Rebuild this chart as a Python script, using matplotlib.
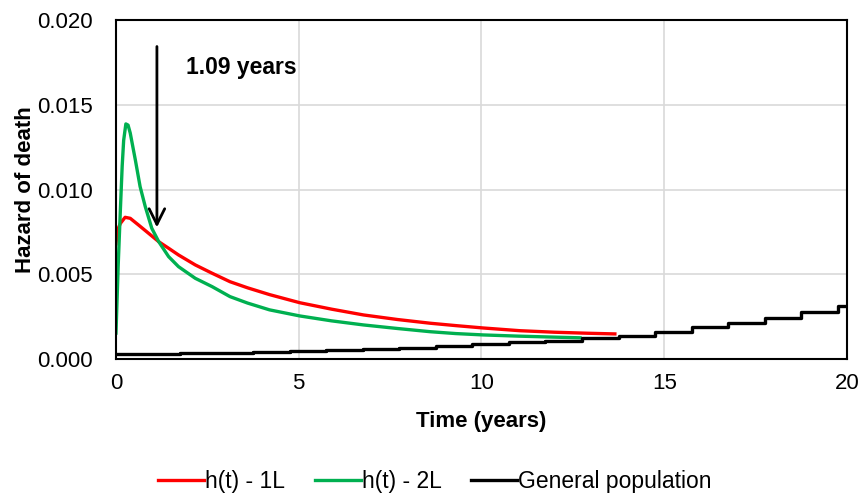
import matplotlib
matplotlib.use("Agg")
import matplotlib.pyplot as plt

plt.rcParams['font.family'] = ['Liberation Sans', 'DejaVu Sans']

# h(t) - 1L
t_1l = [0, 0.04, 0.12, 0.25, 0.39, 0.62, 0.89, 1.17, 1.45, 1.71, 2.17, 2.63, 3.12, 3.6, 4.2, 5.03,
        5.9, 6.77, 7.7, 8.6, 9.3, 10.05, 11.05, 12.0, 12.9, 13.65]
h_1l = [0.0068, 0.0076, 0.0080, 0.00836, 0.0083, 0.0079, 0.00742, 0.00692, 0.00652, 0.00614, 0.00555,
        0.00506, 0.00456, 0.0042, 0.0038, 0.00332, 0.00294, 0.0026, 0.00233, 0.00211, 0.00197, 0.00183,
        0.00167, 0.00158, 0.00152, 0.00148]

# h(t) - 2L
t_2l = [0, 0.06, 0.12, 0.17, 0.21, 0.27, 0.33, 0.39, 0.53, 0.66, 0.80, 0.98, 1.17, 1.44, 1.71, 2.17,
        2.63, 3.12, 3.6, 4.2, 5.03, 5.9, 6.77, 7.7, 8.6, 9.3, 10.05, 11, 12, 12.7]
h_2l = [0.00153, 0.0055, 0.0088, 0.0114, 0.0129, 0.01387, 0.0138, 0.01333, 0.01174, 0.01017, 0.0090,
        0.00771, 0.00692, 0.00604, 0.00545, 0.00476, 0.00427, 0.00368, 0.0033, 0.0029, 0.00254, 0.00225,
        0.00201, 0.0018, 0.00161, 0.0015, 0.00142, 0.00135, 0.00129, 0.00125]

# general population (stepwise)
t_gp = [0, 0.75, 1.75, 2.75, 3.75, 4.75, 5.75, 6.75, 7.75, 8.75, 9.75, 10.75, 11.75, 12.75, 13.75,
        14.75, 15.75, 16.75, 17.75, 18.75, 19.75, 20]
h_gp = [0.00030, 0.00031, 0.00036, 0.00038, 0.00043, 0.00048, 0.00055, 0.00061, 0.00067, 0.00075,
        0.00086, 0.00098, 0.00106, 0.00126, 0.00136, 0.00160, 0.00186, 0.00213, 0.00240, 0.00275,
        0.00315, 0.00315]

fig = plt.figure(figsize=(8.63, 4.93), dpi=100)
ax = fig.add_axes([0.1344, 0.2718, 0.847, 0.6876])

ax.plot(t_1l, h_1l, color='#ff0000', lw=2.4, label='h(t) - 1L')
ax.plot(t_2l, h_2l, color='#00b050', lw=2.4, label='h(t) - 2L')
ax.plot(t_gp, h_gp, color='black', lw=2.4, drawstyle='steps-post', label='General population')

ax.set_xlim(0, 20)
ax.set_ylim(0, 0.020)
ax.set_xticks([0, 5, 10, 15, 20])
ax.set_yticks([0, 0.005, 0.010, 0.015, 0.020])
ax.set_yticklabels(['0.000', '0.005', '0.010', '0.015', '0.020'])
ax.tick_params(length=0, labelsize=16)
ax.tick_params(axis='x', pad=10)
ax.tick_params(axis='y', pad=17)
ax.grid(True, color='#d9d9d9', lw=1.2)
ax.set_axisbelow(True)
for s in ax.spines.values():
    s.set_linewidth(1.5)
    s.set_color('black')

ax.set_xlabel('Time (years)', fontsize=16, fontweight='bold')
ax.set_ylabel('Hazard of death', fontsize=16, fontweight='bold')
ax.xaxis.set_label_coords(0.5, -0.152)
ax.yaxis.set_label_coords(-0.109, 0.5)

ax.annotate('', xy=(1.12, 0.0076), xytext=(1.12, 0.0186),
            arrowprops=dict(arrowstyle='->', color='black', lw=2, mutation_scale=28))
ax.text(1.92, 0.01717, '1.09 years', fontsize=16.5, fontweight='bold', va='center', ha='left')

fig.legend(loc='center', bbox_to_anchor=(0.504, 0.024), ncol=3, frameon=False, fontsize=16.5,
           handlelength=2.0, columnspacing=1.3, handletextpad=0.05)

fig.savefig('out.png', dpi=100)
